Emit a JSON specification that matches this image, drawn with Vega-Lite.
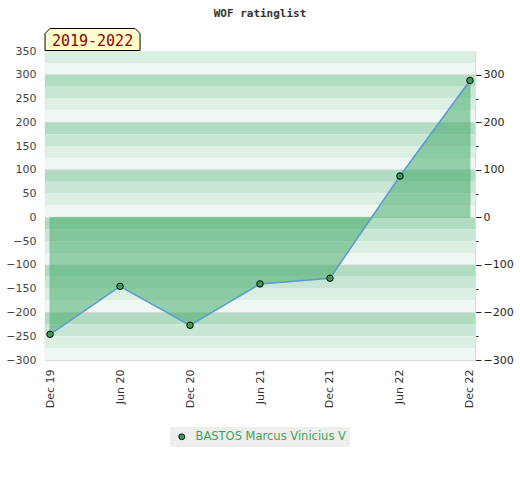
{
  "$schema": "https://vega.github.io/schema/vega-lite/v6.json",
  "width": 430,
  "height": 309,
  "autosize": {"type": "none"},
  "padding": {"left": 45, "top": 51, "right": 45, "bottom": 120},
  "background": "white",
  "title": {
    "text": "WOF ratinglist",
    "font": "DejaVu Sans Mono",
    "fontWeight": "bold",
    "fontSize": 11,
    "color": "#333333",
    "anchor": "middle",
    "frame": "group",
    "offset": 7
  },
  "config": {
    "view": {"stroke": null},
    "axis": {"labelFont": "DejaVu Sans", "labelFontSize": 11, "grid": false}
  },
  "datasets": {
    "bands": [
      {"lo": 325, "hi": 350, "shade": "light"},
      {"lo": 300, "hi": 325, "shade": "lightest"},
      {"lo": 275, "hi": 300, "shade": "dark"},
      {"lo": 250, "hi": 275, "shade": "medium"},
      {"lo": 225, "hi": 250, "shade": "light"},
      {"lo": 200, "hi": 225, "shade": "lightest"},
      {"lo": 175, "hi": 200, "shade": "dark"},
      {"lo": 150, "hi": 175, "shade": "medium"},
      {"lo": 125, "hi": 150, "shade": "light"},
      {"lo": 100, "hi": 125, "shade": "lightest"},
      {"lo": 75, "hi": 100, "shade": "dark"},
      {"lo": 50, "hi": 75, "shade": "medium"},
      {"lo": 25, "hi": 50, "shade": "light"},
      {"lo": 0, "hi": 25, "shade": "lightest"},
      {"lo": -25, "hi": 0, "shade": "dark"},
      {"lo": -50, "hi": -25, "shade": "medium"},
      {"lo": -75, "hi": -50, "shade": "light"},
      {"lo": -100, "hi": -75, "shade": "lightest"},
      {"lo": -125, "hi": -100, "shade": "dark"},
      {"lo": -150, "hi": -125, "shade": "medium"},
      {"lo": -175, "hi": -150, "shade": "light"},
      {"lo": -200, "hi": -175, "shade": "lightest"},
      {"lo": -225, "hi": -200, "shade": "dark"},
      {"lo": -250, "hi": -225, "shade": "medium"},
      {"lo": -275, "hi": -250, "shade": "light"},
      {"lo": -300, "hi": -275, "shade": "lightest"}
    ],
    "grid": [
      {"v": 300}, {"v": 200}, {"v": 100}, {"v": -100}, {"v": -200}
    ],
    "ratings": [
      {"period": "Dec 19", "rating": -246, "player": "BASTOS Marcus Vinicius V"},
      {"period": "Jun 20", "rating": -145, "player": "BASTOS Marcus Vinicius V"},
      {"period": "Dec 20", "rating": -227, "player": "BASTOS Marcus Vinicius V"},
      {"period": "Jun 21", "rating": -140, "player": "BASTOS Marcus Vinicius V"},
      {"period": "Dec 21", "rating": -128, "player": "BASTOS Marcus Vinicius V"},
      {"period": "Jun 22", "rating": 87, "player": "BASTOS Marcus Vinicius V"},
      {"period": "Dec 22", "rating": 288, "player": "BASTOS Marcus Vinicius V"}
    ],
    "label": [{"text": "2019-2022", "period": "Dec 19", "top": 350}]
  },
  "layer": [
    {
      "data": {"name": "bands"},
      "mark": {"type": "rect"},
      "encoding": {
        "y": {"field": "lo", "type": "quantitative", "scale": {"domain": [-300, 350], "nice": false, "zero": false},
          "axis": {
            "orient": "left",
            "values": [350, 300, 250, 200, 150, 100, 50, 0, -50, -100, -150, -200, -250, -300],
            "title": null,
            "ticks": false,
            "labelPadding": 9,
            "labelColor": "#444444",
            "domainColor": "#dddddd",
            "domainWidth": 1.5
          }},
        "y2": {"field": "hi"},
        "color": {"field": "shade", "type": "nominal", "legend": null,
          "scale": {"domain": ["dark", "medium", "light", "lightest"], "range": ["#b2dcc2", "#c7e6d3", "#dbefe3", "#eff7f2"]}}
      }
    },
    {
      "data": {"name": "grid"},
      "mark": {"type": "rule", "color": "#d9d9d9", "strokeWidth": 1},
      "encoding": {"y": {"field": "v", "type": "quantitative", "axis": null}}
    },
    {
      "data": {"name": "ratings"},
      "mark": {"type": "area", "color": "#3ea864", "opacity": 0.5, "stroke": "#3a9a5a", "strokeWidth": 1, "strokeOpacity": 1},
      "encoding": {
        "x": {"field": "period", "type": "ordinal", "sort": null,
          "scale": {"type": "point", "padding": 0.072, "domain": ["Dec 19", "Jun 20", "Dec 20", "Jun 21", "Dec 21", "Jun 22", "Dec 22"]},
          "axis": {"title": null, "labelAngle": 270, "ticks": false, "labelPadding": 9, "labelColor": "#333333", "domainColor": "#dddddd", "domainWidth": 1.5}},
        "y": {"field": "rating", "type": "quantitative", "axis": null},
        "y2": {"datum": 0}
      }
    },
    {
      "data": {"name": "ratings"},
      "mark": {"type": "line", "color": "#5b9bd5", "strokeWidth": 1.5},
      "encoding": {
        "x": {"field": "period", "type": "ordinal", "sort": null},
        "y": {"field": "rating", "type": "quantitative",
          "axis": {
            "orient": "right",
            "values": [300, 250, 200, 150, 100, 50, 0, -50, -100, -150, -200, -250, -300],
            "title": null,
            "labelExpr": "datum.value % 100 === 0 ? datum.label : ''",
            "tickSize": {"condition": {"test": "datum.value % 100 === 0", "value": 6}, "value": 3},
            "tickColor": "#222222",
            "labelColor": "#222222",
            "labelPadding": 2,
            "domainColor": "#dddddd",
            "domainWidth": 1.5
          }}
      }
    },
    {
      "data": {"name": "ratings"},
      "mark": {"type": "point", "filled": true, "stroke": "black", "strokeWidth": 1, "size": 42, "opacity": 1},
      "encoding": {
        "x": {"field": "period", "type": "ordinal", "sort": null},
        "y": {"field": "rating", "type": "quantitative", "axis": null},
        "fill": {"field": "player", "type": "nominal",
          "scale": {"range": ["#34a058"]},
          "legend": {
            "title": null,
            "orient": "none",
            "legendX": 125,
            "legendY": 376,
            "fillColor": "#eeeeee",
            "padding": 4,
            "labelColor": "#3aa655",
            "labelFont": "DejaVu Sans",
            "labelFontSize": 11.5,
            "symbolType": "circle",
            "symbolSize": 34,
            "symbolStrokeColor": "black",
            "symbolStrokeWidth": 1,
            "symbolOffset": 2,
            "labelOffset": 8
          }}
      }
    },
    {
      "data": {"name": "label"},
      "mark": {"type": "point", "filled": true, "fill": "#ffffcc", "stroke": "black", "strokeWidth": 1, "opacity": 1,
        "size": 9025, "xOffset": 42.5, "yOffset": -11.5,
        "shape": "M -1 0.2316 L -1 -0.126 L -0.895 -0.2316 L 0.895 -0.2316 L 1 -0.126 L 1 0.2316 Z"},
      "encoding": {
        "x": {"field": "period", "type": "ordinal", "sort": null},
        "y": {"field": "top", "type": "quantitative", "axis": null}
      }
    },
    {
      "data": {"name": "label"},
      "mark": {"type": "text", "font": "DejaVu Sans Mono", "fontSize": 15, "color": "#8b0000", "align": "center", "baseline": "middle",
        "dx": 42.5, "dy": -10},
      "encoding": {
        "x": {"field": "period", "type": "ordinal", "sort": null},
        "y": {"field": "top", "type": "quantitative", "axis": null},
        "text": {"field": "text"}
      }
    }
  ],
  "resolve": {"axis": {"y": "independent"}}
}
